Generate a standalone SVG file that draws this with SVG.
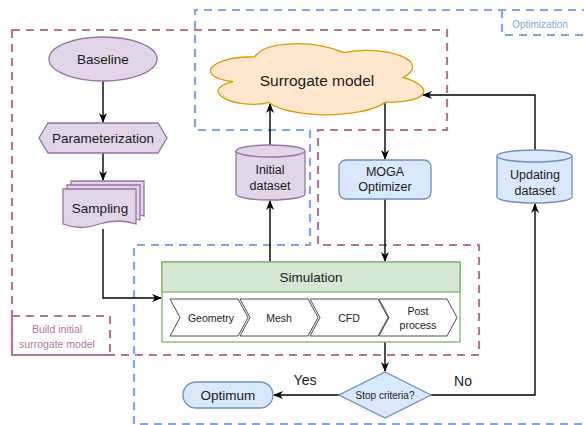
<svg xmlns="http://www.w3.org/2000/svg" width="584" height="425" viewBox="0 0 584 425">
<defs>
<style>
text{font-family:"Liberation Sans",Arial,sans-serif;fill:#1a1a1a;text-anchor:middle;dominant-baseline:central}
.purple{fill:#e1d5e7;stroke:#9673a6;stroke-width:1.3}
.blue{fill:#dae8fc;stroke:#6c8ebf;stroke-width:1.3}
.green{fill:#d5e8d4;stroke:#82b366;stroke-width:1.3}
.chev{fill:#fff;stroke:#4d4d4d;stroke-width:1}
.rgn-p{fill:none;stroke:#b5739d;stroke-width:2.2;stroke-dasharray:8 6}
.rgn-b{fill:none;stroke:#7ea6e0;stroke-width:2.2;stroke-dasharray:8 6}
.edge{fill:none;stroke:#000;stroke-width:1.4}
</style>
<marker id="arr" markerWidth="10" markerHeight="8" refX="9" refY="4" orient="auto" markerUnits="userSpaceOnUse">
<path d="M0,0 L10,4 L0,8 L3,4 Z" fill="#000"/>
</marker>
<path id="doc" d="M0,0 H73 V35 Q55,29 36.5,35 Q18,42 0,35 Z"/>
</defs>
<rect width="584" height="425" fill="#fff"/>

<g id="regions">
<path class="rgn-p" d="M12,30 H447 V130 H318 V245 H479 V355 H12 Z"/>
<path class="rgn-b" d="M590,10 H195 V130 H310 V245 H134 V424 H590"/>
<path class="rgn-p" d="M12,316 H110 V355 H12 Z"/>
<text x="57" y="329" font-size="10.5" style="fill:#b5739d">Build initial</text>
<text x="57" y="344" font-size="10.5" style="fill:#b5739d">surrogate model</text>
<path class="rgn-b" d="M502,10 V35 H590"/>
<text x="540" y="24" font-size="10" style="fill:#7ea6e0">Optimization</text>
</g>

<g id="connectors">
<path class="edge" d="M103,81 V122" marker-end="url(#arr)"/>
<path class="edge" d="M103,153 V180" marker-end="url(#arr)"/>
<path class="edge" d="M103,229 V298 H161" marker-end="url(#arr)"/>
<path class="edge" d="M270,262 V201" marker-end="url(#arr)"/>
<path class="edge" d="M270,145 V104" marker-end="url(#arr)"/>
<path class="edge" d="M385,103 V159" marker-end="url(#arr)"/>
<path class="edge" d="M385,199 V261" marker-end="url(#arr)"/>
<path class="edge" d="M385,342 V371" marker-end="url(#arr)"/>
<path class="edge" d="M339,395 H274" marker-end="url(#arr)"/>
<path class="edge" d="M431,395 H535 V204" marker-end="url(#arr)"/>
<path class="edge" d="M535,150 V95 H423" marker-end="url(#arr)"/>
<text x="305" y="380" font-size="14">Yes</text>
<text x="463" y="381" font-size="14">No</text>
</g>

<g id="baseline">
<ellipse class="purple" cx="103" cy="59" rx="54" ry="22"/>
<text x="103" y="59" font-size="13.5">Baseline</text>
</g>

<g id="parameterization">
<path class="purple" d="M48,123 H158 L167,138 L158,153 H48 L39,138 Z"/>
<text x="103" y="138" font-size="13.5">Parameterization</text>
</g>

<g id="sampling">
<use href="#doc" class="purple" x="71" y="181"/>
<use href="#doc" class="purple" x="67" y="185"/>
<use href="#doc" class="purple" x="63" y="189"/>
<text x="100" y="208" font-size="13.5">Sampling</text>
</g>

<g id="surrogate">
<path d="M254.5,56.75 C206.9,56.75 195,77.5 233.1,81.65 C195,90.8 237.8,110.7 268.8,102.4 C290.2,119 361.6,119 385.4,102.4 C433,102.4 433,85.8 403.25,77.5 C433,60.9 385.4,44.3 343.75,52.6 C314,40.15 266.4,40.15 254.5,56.75 Z" fill="#ffe6cc" stroke="#d79b00" stroke-width="1.3"/>
<text x="317" y="80" font-size="15.5">Surrogate model</text>
</g>

<g id="initial-dataset">
<path class="purple" d="M236,151 A34.5,6 0 0 1 305,151 V194 A34.5,6 0 0 1 236,194 Z"/>
<path d="M236,151 A34.5,6 0 0 0 305,151" fill="none" stroke="#9673a6" stroke-width="1.3"/>
<text x="270" y="170" font-size="12.5">Initial</text>
<text x="270" y="186" font-size="12.5">dataset</text>
</g>

<g id="moga">
<rect class="blue" x="339" y="160" width="92" height="39" rx="7"/>
<text x="385" y="172" font-size="12.5">MOGA</text>
<text x="385" y="187" font-size="12.5">Optimizer</text>
</g>

<g id="updating-dataset">
<path class="blue" d="M497,156 A37.5,6 0 0 1 572,156 V197 A37.5,6 0 0 1 497,197 Z"/>
<path d="M497,156 A37.5,6 0 0 0 572,156" fill="none" stroke="#6c8ebf" stroke-width="1.3"/>
<text x="535" y="175" font-size="12.5">Updating</text>
<text x="535" y="191" font-size="12.5">dataset</text>
</g>

<g id="simulation">
<rect x="162" y="262" width="298" height="80" fill="#fff" stroke="#82b366" stroke-width="1.3"/>
<rect class="green" x="162" y="262" width="298" height="30"/>
<text x="311" y="277" font-size="13.5">Simulation</text>
<path class="chev" d="M170,299 H238 L248,317.5 L238,336 H170 L180,317.5 Z"/>
<text x="211" y="318" font-size="10.5">Geometry</text>
<path class="chev" d="M240,299 H308 L318,317.5 L308,336 H240 L250,317.5 Z"/>
<text x="279" y="318" font-size="10.5">Mesh</text>
<path class="chev" d="M310,299 H378 L388,317.5 L378,336 H310 L320,317.5 Z"/>
<text x="349" y="318" font-size="10.5">CFD</text>
<path class="chev" d="M379,299 H447 L457,317.5 L447,336 H379 L389,317.5 Z"/>
<text x="418" y="311" font-size="10.5">Post</text>
<text x="418" y="325" font-size="10.5">process</text>
</g>

<g id="stop-criteria">
<path class="blue" d="M385,372 L431,395 L385,418 L339,395 Z"/>
<text x="385" y="395" font-size="10">Stop criteria?</text>
</g>

<g id="optimum">
<rect class="blue" x="183" y="382" width="90" height="26" rx="13"/>
<text x="228" y="395" font-size="13.5">Optimum</text>
</g>
</svg>
